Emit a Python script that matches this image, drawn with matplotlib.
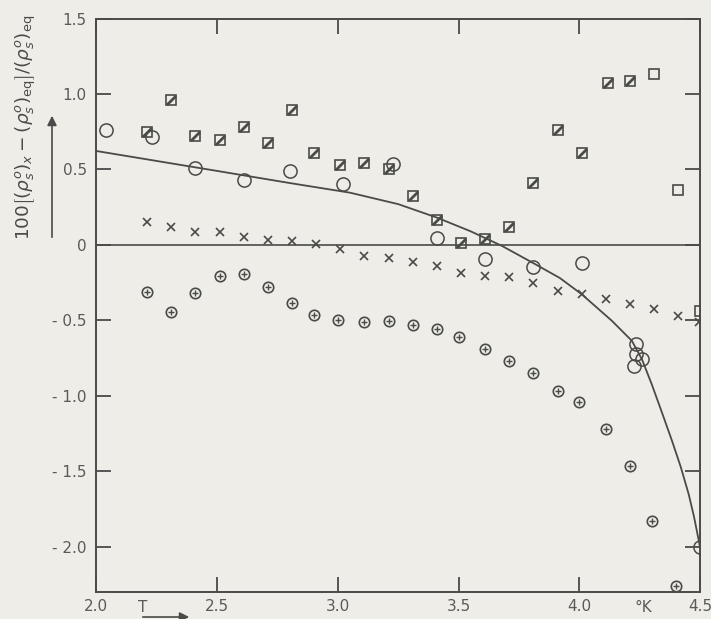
import matplotlib
matplotlib.use('Agg')
import matplotlib.pyplot as plt
from matplotlib.path import Path

# hatched squares (square with a diagonal)
sq_x = [2.21, 2.31, 2.41, 2.51, 2.61, 2.71, 2.81, 2.90, 3.01, 3.11, 3.21,
        3.31, 3.41, 3.51, 3.61, 3.71, 3.81, 3.91, 4.01, 4.12, 4.21]
sq_y = [0.75, 0.958, 0.722, 0.693, 0.781, 0.678, 0.894, 0.607, 0.530, 0.545,
        0.501, 0.325, 0.166, 0.015, 0.042, 0.119, 0.413, 0.760, 0.611, 1.075,
        1.086]
# plain squares
psq_x = [4.31, 4.41, 4.50]
psq_y = [1.134, 0.362, -0.437]
# open circles
ci_x = [2.04, 2.23, 2.41, 2.61, 2.80, 3.02, 3.23, 3.41, 3.61, 3.81, 4.01,
        4.235, 4.233, 4.26, 4.225, 4.50]
ci_y = [0.760, 0.715, 0.512, 0.430, 0.490, 0.406, 0.539, 0.044, -0.091,
        -0.144, -0.121, -0.654, -0.724, -0.757, -0.801, -2.0]
# crosses
cr_x = [2.21, 2.31, 2.41, 2.51, 2.61, 2.71, 2.81, 2.91, 3.01, 3.11, 3.21,
        3.31, 3.41, 3.51, 3.61, 3.71, 3.81, 3.91, 4.01, 4.11, 4.21, 4.31,
        4.41, 4.495]
cr_y = [0.154, 0.119, 0.088, 0.088, 0.053, 0.031, 0.026, 0.005, -0.028,
        -0.073, -0.084, -0.113, -0.139, -0.183, -0.205, -0.216, -0.250,
        -0.305, -0.327, -0.360, -0.393, -0.426, -0.470, -0.51]
# circles with plus
op_x = [2.21, 2.31, 2.41, 2.51, 2.61, 2.71, 2.81, 2.90, 3.00, 3.11, 3.21,
        3.31, 3.41, 3.50, 3.61, 3.71, 3.81, 3.91, 4.00, 4.11, 4.21, 4.30,
        4.40]
op_y = [-0.309, -0.448, -0.320, -0.205, -0.194, -0.278, -0.382, -0.464,
        -0.499, -0.508, -0.503, -0.530, -0.558, -0.609, -0.691, -0.768,
        -0.846, -0.971, -1.038, -1.221, -1.464, -1.832, -2.263]
# theoretical curve
cv_x = [2.0, 2.5, 2.8, 3.05, 3.25, 3.41, 3.55, 3.68, 3.82, 3.92, 4.01, 4.135,
        4.218, 4.26, 4.30, 4.34, 4.384, 4.42, 4.453, 4.475, 4.495, 4.51]
cv_y = [0.622, 0.49, 0.41, 0.346, 0.27, 0.181, 0.09, -0.007, -0.13, -0.22,
        -0.327, -0.503, -0.636, -0.76, -0.923, -1.1, -1.298, -1.47, -1.651,
        -1.8, -1.96, -2.1]

xticks = [2.0, 2.5, 3.0, 3.5, 4.0, 4.5]
xlabels = ['2.0', '2.5', '3.0', '3.5', '4.0', '4.5']
yticks = [1.5, 1.0, 0.5, 0.0, -0.5, -1.0, -1.5, -2.0]
ylabels = ['1.5', '1.0', '0.5', '0', '- 0.5', '- 1.0', '- 1.5', '- 2.0']

ink = '#4a4a48'
grey = '#5a5a58'
bg = '#eeede8'

fig = plt.figure(figsize=(7.11, 6.19), dpi=100, facecolor=bg)
ax = fig.add_axes([96.4 / 711, 1 - 592 / 619, (700 - 96.4) / 711, (592 - 18.5) / 619])
ax.set_facecolor(bg)

ax.axhline(0, color=ink, lw=1.2, zorder=1)
ax.plot(cv_x, cv_y, color=ink, lw=1.3, zorder=2)

diag = Path([(-0.5, -0.5), (0.5, 0.5)], [Path.MOVETO, Path.LINETO])

ax.plot(sq_x, sq_y, ls='none', marker='s', ms=7.5, mfc='none', mec=ink, mew=1.2, zorder=3)
ax.plot(sq_x, sq_y, ls='none', marker=diag, ms=6.5, mec=ink, mew=2.0, zorder=3)
ax.plot(psq_x, psq_y, ls='none', marker='s', ms=7.5, mfc='none', mec=ink, mew=1.2, zorder=3)
ax.plot(ci_x, ci_y, ls='none', marker='o', ms=9.5, mfc='none', mec=ink, mew=1.1, zorder=3)
ax.plot(cr_x, cr_y, ls='none', marker='x', ms=6, mec=ink, mew=1.2, zorder=3)
ax.plot(op_x, op_y, ls='none', marker='o', ms=7.5, mfc='none', mec=ink, mew=1.2, zorder=3)
ax.plot(op_x, op_y, ls='none', marker='+', ms=5.0, mec=ink, mew=1.0, zorder=3)

ax.set_xlim(2.0, 4.5)
ax.set_ylim(-2.3, 1.5)
ax.set_xticks(xticks)
ax.set_xticklabels(xlabels)
ax.set_yticks(yticks)
ax.set_yticklabels(ylabels)
ax.tick_params(direction='in', length=11, width=1.3, color=ink,
               top=True, right=True, labelsize=11, labelcolor=grey)
ax.tick_params(axis='x', pad=5)
ax.tick_params(axis='y', pad=7)
for s in ax.spines.values():
    s.set_color(ink)
    s.set_linewidth(1.4)

# axis labels
fig.text(143 / 711, 1 - 607 / 619, 'T', ha='center', va='center', fontsize=11, color=grey)
fig.text(643 / 711, 1 - 607 / 619, '°K', ha='center', va='center', fontsize=11, color=grey)
ax.annotate('', xy=(192 / 711, 1 - 617 / 619), xytext=(140 / 711, 1 - 617 / 619),
            xycoords='figure fraction',
            arrowprops=dict(arrowstyle='-|>', color=ink, lw=1.2, mutation_scale=14))

fig.text(26 / 711, 1 - 127 / 619,
         r'$100\left[(\rho_s^o)_x-(\rho_s^o)_{\mathrm{eq}}\right]/(\rho_s^o)_{\mathrm{eq}}$',
         rotation=90, ha='center', va='center', fontsize=13.3, color=ink)
ax.annotate('', xy=(52 / 711, 1 - 113 / 619), xytext=(52 / 711, 1 - 240 / 619),
            xycoords='figure fraction',
            arrowprops=dict(arrowstyle='-|>', color=ink, lw=1.2, mutation_scale=14))

fig.savefig('out.png', dpi=100, facecolor=bg)
